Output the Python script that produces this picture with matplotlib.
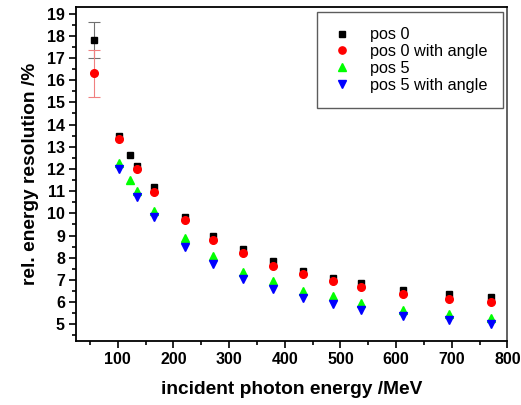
import matplotlib
matplotlib.use("Agg")
import matplotlib.pyplot as plt
from matplotlib.ticker import MultipleLocator

plt.rcParams['font.family'] = ['Liberation Sans', 'DejaVu Sans']

# incident photon energy (MeV) and relative energy resolution (%)
e_pos0 = [57, 103, 122, 135, 165, 220, 271, 325, 378, 432, 486, 536, 612, 695, 771]
r_pos0 = [17.8, 13.5, 12.65, 12.15, 11.2, 9.83, 9.0, 8.38, 7.85, 7.4, 7.1, 6.88, 6.56, 6.38, 6.25]
err_pos0 = [0.8] + [0] * 14

e_pos0_ang = [57, 103, 135, 165, 220, 271, 325, 378, 432, 486, 536, 612, 695, 771]
r_pos0_ang = [16.3, 13.35, 12.02, 10.97, 9.68, 8.8, 8.2, 7.65, 7.27, 6.95, 6.7, 6.35, 6.13, 6.02]
err_pos0_ang = [1.07] + [0] * 13

e_pos5 = [103, 122, 135, 165, 220, 271, 325, 378, 432, 486, 536, 612, 695, 771]
r_pos5 = [12.25, 11.5, 11.0, 10.1, 8.9, 8.1, 7.36, 6.97, 6.5, 6.26, 5.96, 5.64, 5.45, 5.27]

e_pos5_ang = [103, 135, 165, 220, 271, 325, 378, 432, 486, 536, 612, 695, 771]
r_pos5_ang = [11.98, 10.75, 9.83, 8.5, 7.74, 7.05, 6.6, 6.2, 5.9, 5.64, 5.36, 5.18, 5.0]

x_ticks = [100, 200, 300, 400, 500, 600, 700, 800]

fig = plt.figure(figsize=(5.21, 4.05), dpi=100)
ax = fig.add_axes([0.146, 0.158, 0.828, 0.825])

# error bars for the low-energy points
ax.errorbar(e_pos0[:1], r_pos0[:1], yerr=err_pos0[:1], fmt='none',
            ecolor='#707070', elinewidth=0.8, capsize=4, capthick=0.8)
ax.errorbar(e_pos0_ang[:1], r_pos0_ang[:1], yerr=err_pos0_ang[:1], fmt='none',
            ecolor='#f08080', elinewidth=0.8, capsize=4, capthick=0.8)

ax.plot(e_pos0, r_pos0, 's', color='black', ms=4.6, label='pos 0')
ax.plot(e_pos0_ang, r_pos0_ang, 'o', color='red', ms=5.5, label='pos 0 with angle')
ax.plot(e_pos5, r_pos5, '^', color='#00ff00', ms=6.2, label='pos 5')
ax.plot(e_pos5_ang, r_pos5_ang, 'v', color='blue', ms=6.2, label='pos 5 with angle')

ax.set_xlim(25, 800)
ax.set_ylim(4.25, 19.3)
ax.set_xticks(x_ticks)
ax.xaxis.set_minor_locator(MultipleLocator(50))
ax.yaxis.set_major_locator(MultipleLocator(1))
ax.yaxis.set_minor_locator(MultipleLocator(0.5))
ax.tick_params(which='both', direction='out', top=False, right=False, width=1.2)
ax.tick_params(which='major', length=5, labelsize=11.5, pad=3)
ax.tick_params(which='minor', length=3)
for lbl in ax.get_xticklabels() + ax.get_yticklabels():
    lbl.set_fontweight('bold')

for s in ax.spines.values():
    s.set_linewidth(1.3)
ax.spines['right'].set_color('#555555')

ax.set_xlabel('incident photon energy /MeV', fontsize=13.8, fontweight='bold', labelpad=10)
ax.set_ylabel('rel. energy resolution /%', fontsize=13.8, fontweight='bold', labelpad=6)

leg = ax.legend(loc='upper right', fontsize=11.7, frameon=True, fancybox=False,
                edgecolor='#333333', borderpad=0.95, handlelength=1.2,
                handletextpad=1.1, labelspacing=0.12, borderaxespad=0.3,
                markerscale=0.95)
leg.get_frame().set_linewidth(1.0)

fig.savefig('out.png', dpi=100)
